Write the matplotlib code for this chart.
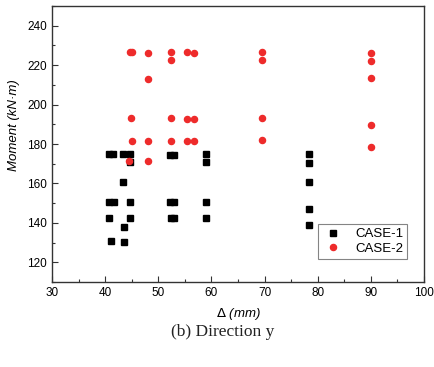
import matplotlib
matplotlib.use("Agg")
import matplotlib.pyplot as plt
from matplotlib.ticker import MultipleLocator

plt.rcParams["font.family"] = ["Liberation Sans", "DejaVu Sans"]

# Storey drift vs. moment, direction y
CASE1_X = [40.7, 41.5, 43.4, 44.75, 44.75, 43.4, 40.7, 41.6, 44.75, 40.7, 44.75,
           43.5, 41.1, 43.5, 52.2, 53.0, 52.2, 53.0, 52.4, 53.0,
           59.0, 59.0, 59.0, 59.0, 78.4, 78.4, 78.4, 78.4, 78.4]
CASE1_Y = [174.9, 174.9, 175.0, 175.0, 170.8, 160.5, 150.8, 150.8, 150.8, 142.7, 142.7,
           138.0, 130.8, 130.5, 174.6, 174.6, 150.7, 150.7, 142.4, 142.4,
           174.9, 170.7, 150.8, 142.7, 174.9, 170.3, 160.8, 147.0, 139.0]

CASE2_X = [44.6, 45.0, 48.1, 52.4, 52.4, 55.4, 56.7, 48.1,
           44.8, 52.4, 55.4, 56.75,
           45.0, 48.1, 52.4, 55.4, 56.75, 44.4, 48.1,
           69.6, 69.6, 69.6, 69.6, 90.0, 90.0, 90.0, 90.0, 90.0]
CASE2_Y = [226.5, 226.5, 226.3, 226.5, 222.8, 226.5, 226.0, 213.1,
           193.3, 193.3, 192.8, 192.7,
           181.6, 181.6, 181.7, 181.7, 181.7, 171.5, 171.5,
           226.5, 222.8, 193.3, 182.0, 226.1, 222.2, 213.5, 189.8, 178.6]

fig = plt.figure(figsize=(4.34, 3.67), dpi=100)
ax = fig.add_axes([0.1198, 0.2316, 0.857, 0.752])

ax.plot(CASE1_X, CASE1_Y, ls="none", marker="s", ms=3.9, color="black",
        mec="black", label="CASE-1")
ax.plot(CASE2_X, CASE2_Y, ls="none", marker="o", ms=4.4, color="#ee2b2b",
        mec="#ee2b2b", label="CASE-2")

ax.set_xlim(30, 100)
ax.set_ylim(110, 250)
ax.xaxis.set_major_locator(MultipleLocator(10))
ax.xaxis.set_minor_locator(MultipleLocator(5))
ax.yaxis.set_major_locator(MultipleLocator(20))
ax.yaxis.set_minor_locator(MultipleLocator(10))
ax.tick_params(which="both", direction="in", labelsize=8.5, color="#333333",
               width=0.8)
ax.tick_params(which="major", length=4)
ax.tick_params(which="minor", length=2.5)
for sp in ax.spines.values():
    sp.set_color("#333333")
    sp.set_linewidth(1.0)

ax.set_xlabel(r"$\mathit{\Delta}$ (mm)", fontsize=9.5, style="italic", labelpad=5)
ax.set_ylabel("Moment (kN·m)", fontsize=9.5, style="italic")
ax.yaxis.set_label_coords(-0.085, 0.57)

leg = ax.legend(loc="lower right", bbox_to_anchor=(0.955, 0.085), fontsize=9.5,
                frameon=True, fancybox=False, edgecolor="#666666",
                handletextpad=0.9, borderpad=0.3, labelspacing=0.15,
                handlelength=1.6, borderaxespad=0)
leg.get_frame().set_linewidth(0.8)

fig.text(0.512, 0.095, "(b) Direction y", ha="center", va="center",
         fontsize=12.5, family=["Liberation Serif", "DejaVu Serif"], color="#222222")

fig.savefig("out.png", dpi=100)
